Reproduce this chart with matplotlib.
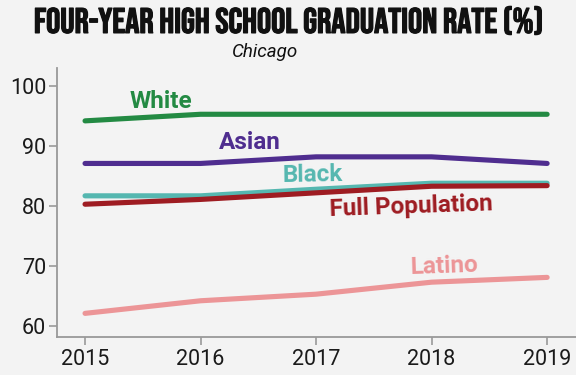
import matplotlib
matplotlib.use("Agg")
import matplotlib.pyplot as plt
import matplotlib.patheffects as pe
from matplotlib import font_manager

years = [2015, 2016, 2017, 2018, 2019]
white = [94.2, 95.3, 95.3, 95.3, 95.3]
asian = [87.1, 87.1, 88.2, 88.2, 87.1]
black = [81.7, 81.7, 82.8, 83.8, 83.8]
full_population = [80.3, 81.1, 82.2, 83.3, 83.4]
latino = [62.1, 64.2, 65.3, 67.3, 68.1]
y_ticks = [60, 70, 80, 90, 100]

series = [
    ("White", white, "#238a43", (2015.66, 97.5), 0),
    ("Asian", asian, "#4f2d8f", (2016.43, 90.6), 0),
    ("Black", black, "#55b7b0", (2016.97, 85.2), 1),
    ("Full Population", full_population, "#9e1c22", (2017.82, 79.9), 2),
    ("Latino", latino, "#ec9597", (2018.11, 69.9), 2),
]

bg = "#f3f3f3"
fig = plt.figure(figsize=(5.76, 3.75), dpi=100, facecolor=bg)
ax = fig.add_axes([0.0995, 0.102, 0.9005, 0.718], facecolor=bg)

for name, vals, color, pos, rot in series:
    ax.plot(years, vals, color=color, lw=3.7, solid_capstyle="round",
            solid_joinstyle="round", zorder=3)
    ax.text(pos[0], pos[1], name, color=color, fontsize=17.5,
            fontweight="bold", family="Roboto", ha="center", va="center",
            rotation=rot, zorder=4)

ax.set_xlim(2014.76, 2019.25)
ax.set_ylim(58.2, 103.1)
ax.set_xticks(years)
ax.set_xticklabels([str(y) for y in years])
ax.set_yticks(y_ticks)
ax.set_yticklabels([str(t) for t in y_ticks])

for s in ["top", "right"]:
    ax.spines[s].set_visible(False)
for s in ["left", "bottom"]:
    ax.spines[s].set_color("#999999")
    ax.spines[s].set_linewidth(1.3)
ax.tick_params(axis="both", colors="#999999", width=1.2, length=6,
               labelcolor="#1a1a1a", labelsize=15.5)
for lab in ax.get_xticklabels() + ax.get_yticklabels():
    lab.set_family("Roboto")
ax.tick_params(axis="x", pad=3)
ax.tick_params(axis="y", pad=2)

avail = {f.name for f in font_manager.fontManager.ttflist}
title_font = "DejaVu Sans"
for cand in ["Bebas Neue", "Oswald", "Barlow Condensed", "Roboto Condensed",
             "Liberation Sans Narrow"]:
    if cand in avail:
        title_font = cand
        break
fig.text(0.5, 0.945, "FOUR-YEAR HIGH SCHOOL GRADUATION RATE (%)",
         ha="center", va="center", fontsize=25.5, fontweight="bold",
         family=title_font, color="#111111",
         path_effects=[pe.withStroke(linewidth=0.9, foreground="#111111")])
fig.text(0.46, 0.862, "Chicago", ha="center", va="center", fontsize=13.5,
         style="italic", family="Roboto", color="#111111")

fig.savefig("out.png", dpi=100, facecolor=bg)
